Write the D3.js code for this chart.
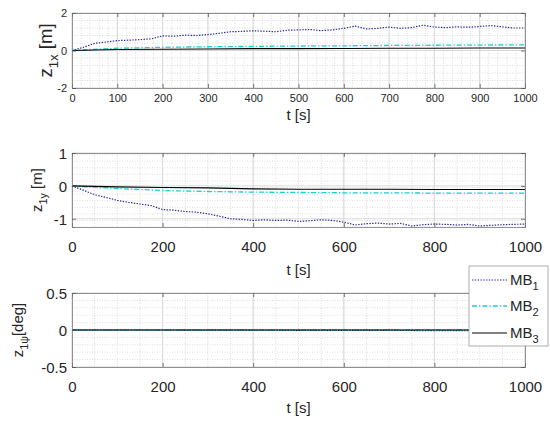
<!DOCTYPE html>
<html>
<head>
<meta charset="utf-8">
<script src="https://cdn.jsdelivr.net/npm/d3@7"></script>
<style>
  body { margin: 0; background: #fff; }
  text { font-family: "Liberation Sans", Arial, sans-serif; fill: #262626; }
</style>
</head>
<body>
<div id="chart"></div>
<script>
// time grids
var tFine = [0, 25, 50, 75, 100, 125, 150, 175, 200, 225, 250, 275, 300, 325, 350, 375, 400,
  425, 450, 475, 500, 525, 550, 575, 600, 625, 650, 675, 700, 725, 750, 775, 800,
  825, 850, 875, 900, 925, 950, 975, 1000];
var tCoarse = [0, 100, 200, 300, 400, 500, 600, 700, 800, 900, 1000];

// z_1x [m]
var xMB1 = [0, 0.17, 0.38, 0.45, 0.53, 0.55, 0.58, 0.62, 0.78, 0.76, 0.82, 0.80, 0.85, 0.92, 1.00, 1.02, 1.05,
  1.03, 1.00, 1.08, 1.10, 1.12, 1.06, 1.10, 1.18, 1.30, 1.15, 1.18, 1.25, 1.18, 1.22, 1.35, 1.25,
  1.22, 1.26, 1.24, 1.28, 1.33, 1.26, 1.20, 1.20];
var xMB2 = [0, 0.12, 0.17, 0.20, 0.22, 0.24, 0.25, 0.27, 0.28, 0.29, 0.30];
var xMB3 = [0, 0.05, 0.07, 0.08, 0.10, 0.10, 0.11, 0.12, 0.12, 0.13, 0.13];

// z_1y [m]
var yMB1 = [0, -0.13, -0.27, -0.35, -0.44, -0.50, -0.55, -0.60, -0.72, -0.74, -0.78, -0.80, -0.85, -0.92, -1.00, -1.02, -1.05,
  -1.03, -1.05, -1.04, -1.08, -1.06, -1.03, -1.05, -1.10, -1.19, -1.15, -1.13, -1.16, -1.14, -1.22, -1.18, -1.16,
  -1.17, -1.19, -1.17, -1.22, -1.20, -1.18, -1.17, -1.16];
var yMB2 = [0, -0.08, -0.14, -0.17, -0.19, -0.20, -0.21, -0.21, -0.22, -0.22, -0.22];
var yMB3 = [0, -0.03, -0.05, -0.06, -0.09, -0.10, -0.10, -0.10, -0.11, -0.11, -0.11];

// z_1psi [deg]
var pMB1 = [0, 0, 0, -0.001, -0.003, -0.004, -0.005, -0.006, -0.008, -0.010, -0.012];
var pMB2 = [0, 0, 0, 0, 0, 0, 0, 0, 0, 0, 0];
var pMB3 = [0, 0, 0, 0, 0, 0, 0, 0, 0, 0, 0];

var seriesNames = ["MB", "MB", "MB"];
var seriesSubs = ["1", "2", "3"];

var svgWidth = 550;
var svgHeight = 426;

var svg = d3.select("#chart")
  .append("svg")
  .attr("width", svgWidth)
  .attr("height", svgHeight);

var styles = [
  { color: "#2b2b96", dash: "1.4,1.4", width: 1.2 },
  { color: "#18d0d8", dash: "5,2,1.4,2", width: 1.3 },
  { color: "#000000", dash: null, width: 1.1 }
];

var panels = [
  {
    top: 13, bottom: 88, yDomain: [-2, 2], yTicks: [-2, 0, 2], yMinor: 0.4,
    xTicks: d3.range(0, 1001, 100), xMinor: 20, tickFont: 11,
    xTickY: 102, xLabelY: 120, yLabelX: 52, yLabelFont: 18.5,
    label: ["1x", " [m]"],
    data: [[tFine, xMB1], [tCoarse, xMB2], [tCoarse, xMB3]]
  },
  {
    top: 153, bottom: 227, yDomain: [-1.25, 1], yTicks: [-1, 0, 1], yMinor: 0.2,
    xTicks: d3.range(0, 1001, 200), xMinor: 50, tickFont: 15,
    xTickY: 252, xLabelY: 275, yLabelX: 42, yLabelFont: 15,
    label: ["1y", " [m]"],
    data: [[tFine, yMB1], [tCoarse, yMB2], [tCoarse, yMB3]]
  },
  {
    top: 293, bottom: 367, yDomain: [-0.5, 0.5], yTicks: [-0.5, 0, 0.5], yMinor: 0.1,
    xTicks: d3.range(0, 1001, 200), xMinor: 50, tickFont: 15,
    xTickY: 392, xLabelY: 413, yLabelX: 23, yLabelFont: 15,
    label: ["1\u03c8", "[deg]"],
    data: [[tCoarse, pMB1], [tCoarse, pMB2], [tCoarse, pMB3]]
  }
];

var left = 72;
var right = 525;

panels.forEach(function(p) {
  var x = d3.scaleLinear().domain([0, 1000]).range([left, right]);
  var y = d3.scaleLinear().domain(p.yDomain).range([p.bottom, p.top]);
  var g = svg.append("g");

  // minor grid
  var xm = d3.range(0, 1000.001, p.xMinor);
  var ym = d3.range(p.yDomain[0], p.yDomain[1] + 1e-6, p.yMinor);
  g.selectAll(".xminor").data(xm).enter().append("line")
    .attr("x1", d => x(d)).attr("x2", d => x(d))
    .attr("y1", p.top).attr("y2", p.bottom)
    .attr("stroke", "#cfcfcf").attr("stroke-width", 0.7)
    .attr("stroke-dasharray", "1,1.5");
  g.selectAll(".yminor").data(ym).enter().append("line")
    .attr("x1", left).attr("x2", right)
    .attr("y1", d => y(d)).attr("y2", d => y(d))
    .attr("stroke", "#cfcfcf").attr("stroke-width", 0.7)
    .attr("stroke-dasharray", "1,1.5");

  // major grid
  g.selectAll(".xmajor").data(p.xTicks).enter().append("line")
    .attr("x1", d => x(d)).attr("x2", d => x(d))
    .attr("y1", p.top).attr("y2", p.bottom)
    .attr("stroke", "#d0d0d0").attr("stroke-width", 0.8);
  g.selectAll(".ymajor").data(p.yTicks).enter().append("line")
    .attr("x1", left).attr("x2", right)
    .attr("y1", d => y(d)).attr("y2", d => y(d))
    .attr("stroke", "#d0d0d0").attr("stroke-width", 0.8);

  // series
  var line = d3.line().x(d => x(d[0])).y(d => y(d[1]));
  p.data.forEach(function(s, i) {
    var pts = s[0].map((t, k) => [t, s[1][k]]);
    g.append("path")
      .datum(pts)
      .attr("d", line)
      .attr("fill", "none")
      .attr("stroke", styles[i].color)
      .attr("stroke-width", styles[i].width)
      .attr("stroke-dasharray", styles[i].dash);
  });

  // axes with inward ticks
  var bottomAxis = d3.axisBottom(x).tickValues(p.xTicks).tickSize(-4).tickPadding(0).tickFormat(d3.format("d"));
  var topAxis = d3.axisTop(x).tickValues(p.xTicks).tickSize(-4).tickFormat("");
  var leftAxis = d3.axisLeft(y).tickValues(p.yTicks).tickSize(-4).tickFormat(d => String(d));
  var rightAxis = d3.axisRight(y).tickValues(p.yTicks).tickSize(-4).tickFormat("");

  var bx = g.append("g").attr("transform", `translate(0, ${p.bottom})`).call(bottomAxis);
  bx.selectAll("text").attr("y", p.xTickY - p.bottom).attr("dy", 0)
    .style("font-size", p.tickFont + "px");
  g.append("g").attr("transform", `translate(0, ${p.top})`).call(topAxis);
  var ly = g.append("g").attr("transform", `translate(${left}, 0)`).call(leftAxis);
  ly.selectAll("text").attr("x", -5).attr("dy", "0.36em")
    .style("font-size", p.tickFont + "px");
  g.append("g").attr("transform", `translate(${right}, 0)`).call(rightAxis);

  g.selectAll(".domain").attr("stroke", "#7a7a7a").attr("stroke-width", 0.8);
  g.selectAll(".tick line").attr("stroke", "#555").attr("stroke-width", 0.8);
  g.selectAll(".tick text").style("fill", "#262626")
    .style("font-family", "'Liberation Sans', Arial, sans-serif");

  // x label
  g.append("text")
    .attr("x", (left + right) / 2)
    .attr("y", p.xLabelY)
    .attr("text-anchor", "middle")
    .style("font-size", "15px")
    .text("t [s]");

  // y label
  var yl = g.append("text")
    .attr("transform", `translate(${p.yLabelX}, ${(p.top + p.bottom) / 2}) rotate(-90)`)
    .attr("text-anchor", "middle")
    .style("font-size", p.yLabelFont + "px");
  yl.append("tspan").text("z");
  yl.append("tspan").attr("dy", p.yLabelFont * 0.3).style("font-size", (p.yLabelFont * 0.72) + "px").text(p.label[0]);
  yl.append("tspan").attr("dy", -p.yLabelFont * 0.3).text(p.label[1]);
});

// legend
var legend = svg.append("g").attr("transform", "translate(469, 266)");
legend.append("rect")
  .attr("width", 79).attr("height", 80)
  .attr("fill", "#fff")
  .attr("stroke", "#999").attr("stroke-width", 0.8);

var entryY = [14, 40, 67];
seriesNames.forEach(function(name, i) {
  legend.append("line")
    .attr("x1", 3).attr("x2", 38)
    .attr("y1", entryY[i]).attr("y2", entryY[i])
    .attr("stroke", styles[i].color)
    .attr("stroke-width", styles[i].width)
    .attr("stroke-dasharray", styles[i].dash);
  var t = legend.append("text")
    .attr("x", 41).attr("y", entryY[i] + 5)
    .style("font-size", "15px");
  t.append("tspan").text(name);
  t.append("tspan").attr("dy", 5).style("font-size", "11px").text(seriesSubs[i]);
});
</script>
</body>
</html>
